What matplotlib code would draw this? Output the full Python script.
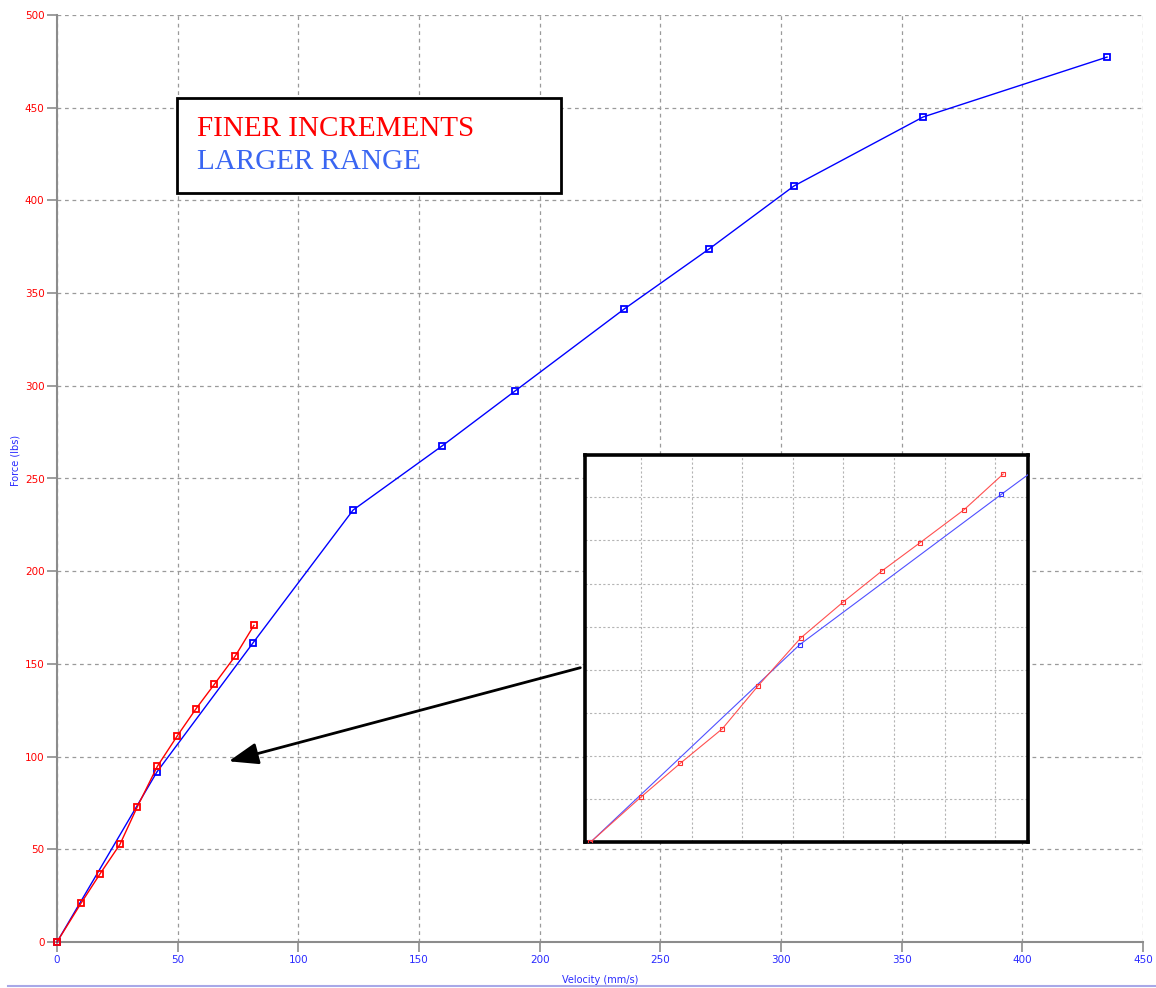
import matplotlib
matplotlib.use("Agg")
import matplotlib.pyplot as plt
from matplotlib.patches import Rectangle, FancyArrowPatch
from matplotlib.lines import Line2D

# ---- data ----
larger_x = [0, 41.4, 81.2, 122.7, 159.5, 189.8, 235.0, 270.2, 305.4, 358.9, 435.1]
larger_y = [0, 91.7, 161.3, 233.0, 267.5, 297.2, 341.4, 373.8, 407.8, 445.0, 477.3]
finer_x = [0, 9.95, 17.8, 26.1, 33.2, 41.6, 49.9, 57.6, 65.2, 73.9, 81.6]
finer_y = [0, 20.9, 36.7, 52.7, 72.7, 94.8, 111.3, 125.8, 139.0, 154.3, 170.8]
x_ticks = [0, 50, 100, 150, 200, 250, 300, 350, 400, 450]
y_ticks = [0, 50, 100, 150, 200, 250, 300, 350, 400, 450, 500]
legend_labels = ["FINER INCREMENTS", "LARGER RANGE"]

W, H = 1156, 988
fig = plt.figure(figsize=(W / 100, H / 100), dpi=100)
fig.patch.set_facecolor("white")


def fr(x0, y0, x1, y1):
    """pixel box (top-left origin) -> figure fraction rect"""
    return [x0 / W, (H - y1) / H, (x1 - x0) / W, (y1 - y0) / H]


# ---- main axes ----
ax = fig.add_axes(fr(57, 15, 1143, 942))
ax.set_xlim(0, 450)
ax.set_ylim(0, 500)
grey = "#8c8c8c"
for s in ["top", "right"]:
    ax.spines[s].set_visible(False)
for s in ["left", "bottom"]:
    ax.spines[s].set_color(grey)
    ax.spines[s].set_linewidth(1.5)
ax.set_xticks(x_ticks)
ax.set_yticks(y_ticks)
ax.tick_params(axis="both", direction="out", length=7, width=1.2, color=grey, labelsize=7.5, pad=2)
for t in ax.get_yticklabels():
    t.set_color("#ff0000")
for t in ax.get_xticklabels():
    t.set_color("#2a2aff")
ax.grid(True, color="#9a9a9a", linestyle=(0, (3, 3)), linewidth=0.9)

ax.plot(larger_x, larger_y, color="#0000ff", lw=1, marker="s", ms=5,
        mfc="none", mec="#0000ff", mew=1.3, zorder=3, clip_on=False)
ax.plot(finer_x, finer_y, color="#ff0000", lw=1, marker="s", ms=5,
        mfc="none", mec="#ff0000", mew=1.3, zorder=4, clip_on=False)

fig.text(15 / W, 1 - 460 / H, "Force (lbs)", rotation=90, ha="center", va="center",
         color="#2a2aff", fontsize=7)
fig.text(600 / W, 1 - 980 / H, "Velocity (mm/s)", ha="center", va="center",
         color="#2a2aff", fontsize=7)

# bottom figure rule
fig.add_artist(Line2D([8 / W, 1], [1 - 986 / H, 1 - 986 / H], color="#a8a8e8", lw=1.5))

# ---- legend box ----
fig.add_artist(Rectangle((177 / W, 1 - 193 / H), 384 / W, 95 / H, transform=fig.transFigure,
                         facecolor="white", edgecolor="black", lw=2, zorder=10))
fig.text(197 / W, 1 - 136 / H, legend_labels[0], color="#ff0000", fontsize=21,
         family="Liberation Serif", ha="left", va="baseline", zorder=11)
fig.text(197 / W, 1 - 169 / H, legend_labels[1], color="#3a66f2", fontsize=21,
         family="Liberation Serif", ha="left", va="baseline", zorder=11)

# ---- inset ----
ix0, iy0, ix1, iy1 = 585, 455, 1028, 842
ins = fig.add_axes(fr(ix0, iy0, ix1, iy1))
ox, sx = 590.3, 5.06
oy, sy = 842.4, 2.157
ins.set_xlim((ix0 - ox) / sx, (ix1 - ox) / sx)
ins.set_ylim((oy - iy1) / sy, (oy - iy0) / sy)
ins.set_xticks([10, 20, 30, 40, 50, 60, 70, 80])
ins.set_yticks([20, 40, 60, 80, 100, 120, 140, 160])
ins.tick_params(length=0, labelleft=False, labelbottom=False)
ins.grid(True, color="#b4b4b4", linestyle=(0, (2, 2)), linewidth=0.8)
for s in ins.spines.values():
    s.set_linewidth(2.6)
    s.set_color("black")
ins.plot(larger_x, larger_y, color="#5050ff", lw=0.8, marker="s", ms=2.5,
         mfc="none", mec="#3030ff", mew=0.8, zorder=3)
ins.plot(finer_x, finer_y, color="#ff5050", lw=0.8, marker="s", ms=2.5,
         mfc="none", mec="#ff3030", mew=0.8, zorder=4)

# ---- arrow ----
arr = FancyArrowPatch((583 / W, 1 - 667 / H), (226 / W, 1 - 762 / H), transform=fig.transFigure,
                      arrowstyle="-|>,head_length=0.9,head_width=0.33", mutation_scale=20,
                      color="black", lw=2, zorder=12)
fig.add_artist(arr)

fig.savefig("out.png", dpi=100)
